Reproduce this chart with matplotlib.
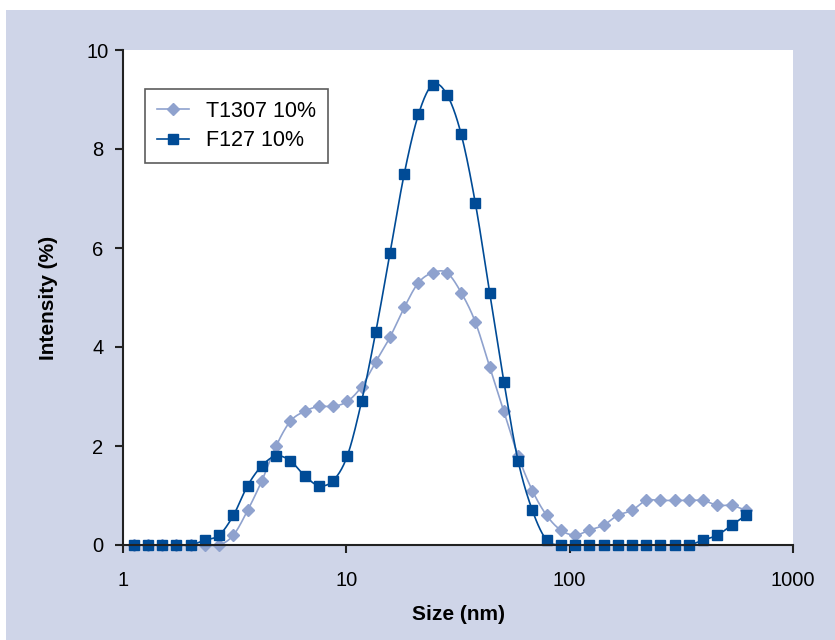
import numpy as np
import matplotlib
matplotlib.use("Agg")
import matplotlib.pyplot as plt
from matplotlib.patches import Rectangle
from matplotlib.lines import Line2D

plt.rcParams['font.family'] = ['Liberation Sans', 'DejaVu Sans']

sizes_nm = [1.117, 1.294, 1.499, 1.736, 2.010, 2.328, 2.696, 3.122, 3.615, 4.187,
            4.849, 5.615, 6.503, 7.531, 8.721, 10.10, 11.70, 13.54, 15.69, 18.17,
            21.04, 24.36, 28.21, 32.67, 37.84, 43.82, 50.75, 58.77, 68.06, 78.82,
            91.28, 105.7, 122.4, 141.8, 164.2, 190.1, 220.2, 255.0, 295.3, 342.0,
            396.1, 458.7, 531.2, 615.1]

t1307 = [0, 0, 0, 0, 0, 0, 0, 0.2, 0.7, 1.3,
         2.0, 2.5, 2.7, 2.8, 2.8, 2.9, 3.2, 3.7, 4.2, 4.8,
         5.3, 5.5, 5.5, 5.1, 4.5, 3.6, 2.7, 1.8, 1.1, 0.6,
         0.3, 0.2, 0.3, 0.4, 0.6, 0.7, 0.9, 0.9, 0.9, 0.9,
         0.9, 0.8, 0.8, 0.7]

f127 = [0, 0, 0, 0, 0, 0.1, 0.2, 0.6, 1.2, 1.6,
        1.8, 1.7, 1.4, 1.2, 1.3, 1.8, 2.9, 4.3, 5.9, 7.5,
        8.7, 9.3, 9.1, 8.3, 6.9, 5.1, 3.3, 1.7, 0.7, 0.1,
        0, 0, 0, 0, 0, 0, 0, 0, 0, 0,
        0.1, 0.2, 0.4, 0.6]

series_names = ["T1307 10%", "F127 10%"]
x_ticks = [1, 10, 100, 1000]
x_tick_labels = ["1", "10", "100", "1000"]
y_ticks = [0, 2, 4, 6, 8, 10]

light = "#8FA2CE"
dark = "#004B96"
bg = "#CFD5E8"


def smooth(xs, ys, n=20):
    u = np.log10(np.asarray(xs, float))
    y = np.asarray(ys, float)
    P = np.column_stack([u, y])
    P = np.vstack([P[0], P, P[-1]])
    out = []
    t = np.linspace(0, 1, n, endpoint=False)[:, None]
    for i in range(1, len(P) - 2):
        p0, p1, p2, p3 = P[i - 1], P[i], P[i + 1], P[i + 2]
        c = 0.5 * ((2 * p1) + (-p0 + p2) * t + (2 * p0 - 5 * p1 + 4 * p2 - p3) * t ** 2
                   + (-p0 + 3 * p1 - 3 * p2 + p3) * t ** 3)
        out.append(c)
    out.append(P[-2][None, :])
    out = np.vstack(out)
    return 10 ** out[:, 0], out[:, 1]


fig = plt.figure(figsize=(8.35, 6.4), dpi=100)
fig.patches.append(Rectangle((6 / 835, 0), 1, (640 - 10) / 640, transform=fig.transFigure,
                             facecolor=bg, edgecolor="none", zorder=-10))

ax = fig.add_axes([123 / 835, (640 - 545) / 640, 670 / 835, 495 / 640])
ax.set_facecolor("white")

sx, sy = smooth(sizes_nm, t1307)
ax.plot(sx, sy, color=light, lw=1.2, zorder=2, clip_on=False)
ax.plot(sizes_nm, t1307, linestyle="none", marker="D", ms=6, color=light, zorder=3, clip_on=False)

sx, sy = smooth(sizes_nm, f127)
ax.plot(sx, sy, color=dark, lw=1.2, zorder=4, clip_on=False)
ax.plot(sizes_nm, f127, linestyle="none", marker="s", ms=7, color=dark, zorder=5, clip_on=False)

ax.set_xscale("log")
ax.set_xlim(1, 1000)
ax.set_ylim(0, 10)
ax.set_xticks(x_ticks)
ax.set_xticklabels(x_tick_labels)
ax.xaxis.set_minor_locator(matplotlib.ticker.NullLocator())
ax.set_yticks(y_ticks)
for s in ["top", "right"]:
    ax.spines[s].set_visible(False)
for s in ["left", "bottom"]:
    ax.spines[s].set_linewidth(1.5)
    ax.spines[s].set_color("#222222")
    ax.spines[s].set_zorder(6)
ax.tick_params(axis="both", direction="out", length=6, width=1.5, color="#222222",
               labelsize=14.5)
ax.tick_params(axis="x", pad=12.5)
ax.tick_params(axis="y", pad=12)
for lab in ax.get_yticklabels():
    lab.set_horizontalalignment("center")

ax.set_xlabel("Size (nm)", fontsize=15, fontweight="bold")
ax.set_ylabel("Intensity (%)", fontsize=15, fontweight="bold")
ax.xaxis.set_label_coords(0.5, (545 - 614) / 495)
ax.xaxis.label.set_va("center")
ax.yaxis.set_label_coords((49 - 123) / 670, 0.5)
ax.yaxis.label.set_va("center")

handles = [
    Line2D([], [], color=light, lw=1.2, marker="D", ms=6),
    Line2D([], [], color=dark, lw=1.2, marker="s", ms=7),
]
leg = ax.legend(handles, series_names, loc="upper left", bbox_to_anchor=(22 / 670, (545 - 89) / 495),
                fontsize=15.5, frameon=True, fancybox=False, edgecolor="#333333",
                handlelength=1.5, borderpad=0.55, labelspacing=0.4, handletextpad=0.8,
                borderaxespad=0)
leg.get_frame().set_linewidth(1.2)

fig.savefig("out.png", dpi=100, facecolor="white")
